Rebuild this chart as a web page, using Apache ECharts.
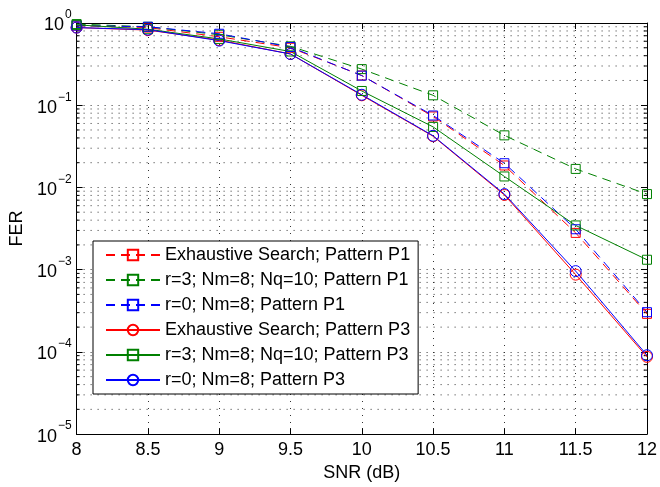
<!DOCTYPE html>
<html>
<head>
<meta charset="utf-8">
<script src="https://cdn.jsdelivr.net/npm/echarts@6/dist/echarts.min.js"></script>
<style>
  html, body { margin: 0; padding: 0; background: #fff; }
  #chart { width: 660px; height: 487px; }
</style>
</head>
<body>
<div id="chart"></div>
<script>
// SNR points (dB)
const snr = [8, 8.5, 9, 9.5, 10, 10.5, 11, 11.5, 12];

// Frame error rates, pattern P1
const exhaustiveP1 = [0.93, 0.88, 0.68, 0.50, 0.23, 0.073, 0.0185, 0.0028, 0.00029];
const r3P1 = [0.97, 0.90, 0.72, 0.52, 0.275, 0.132, 0.043, 0.0168, 0.0083];
const r0P1 = [0.93, 0.90, 0.74, 0.51, 0.229, 0.075, 0.0197, 0.0031, 0.000304];

// Frame error rates, pattern P3
const exhaustiveP3 = [0.88, 0.82, 0.62, 0.42, 0.132, 0.042, 0.0081, 0.00087, 0.000087];
const r3P3 = [0.95, 0.84, 0.64, 0.45, 0.149, 0.0545, 0.0136, 0.00345, 0.00132];
const r0P3 = [0.88, 0.83, 0.61, 0.42, 0.134, 0.0425, 0.0083, 0.00096, 0.000091];

const seriesNames = [
  'Exhaustive Search; Pattern P1',
  'r=3; Nm=8; Nq=10; Pattern P1',
  'r=0; Nm=8; Pattern P1',
  'Exhaustive Search; Pattern P3',
  'r=3; Nm=8; Nq=10; Pattern P3',
  'r=0; Nm=8; Pattern P3'
];

// Axis ranges
const xMin = 8, xMax = 12, xStep = 0.5;
const yMin = 1e-5, yMax = 1;

// Minor log positions (2..9 within each decade)
const minorLevels = [];
for (let d = -5; d < 0; d++) {
  for (let m = 2; m <= 9; m++) minorLevels.push(m * Math.pow(10, d));
}

const RED = '#ff0000', GREEN = '#008000', BLUE = '#0000ff';
const DASH = [9, 6];
const DOT = [1, 6];
const FONT = 'Liberation Sans, Arial, sans-serif';
const FS = 18;

function makeSeries(name, values, color, dashed, symbol) {
  return {
    name: name,
    type: 'line',
    xAxisIndex: 0,
    yAxisIndex: 0,
    data: snr.map((x, i) => [x, values[i]]),
    symbol: symbol,
    symbolSize: symbol === 'circle' ? 11 : 9,
    showAllSymbol: true,
    itemStyle: { color: 'transparent', borderColor: color, borderWidth: 1 },
    lineStyle: { color: color, width: 1, type: dashed ? DASH : 'solid' },
    emphasis: { disabled: true },
    z: 3
  };
}

const chart = echarts.init(document.getElementById('chart'), null, { renderer: 'canvas' });

const axisLineStyle = { lineStyle: { color: '#000', width: 1 } };

const option = {
  backgroundColor: '#fff',
  animation: false,
  textStyle: { fontFamily: FONT },
  grid: { left: 76, right: 12, top: 23, bottom: 45, containLabel: false },
  legend: {
    data: seriesNames,
    orient: 'vertical',
    left: 93,
    top: 241,
    itemWidth: 54,
    itemHeight: 13,
    itemGap: 5,
    padding: [4, 8, 4, 12],
    backgroundColor: '#fff',
    borderColor: '#000',
    borderWidth: 1,
    borderRadius: 0,
    selectedMode: false,
    textStyle: { fontSize: FS, lineHeight: 20, color: '#000', fontFamily: FONT }
  },
  xAxis: [
    {
      type: 'value', min: xMin, max: xMax, interval: xStep, position: 'bottom',
      name: 'SNR (dB)', nameLocation: 'middle', nameGap: 27,
      nameTextStyle: { fontSize: FS, color: '#000' },
      axisLine: axisLineStyle,
      axisTick: { inside: true, length: 6, lineStyle: { color: '#000' } },
      axisLabel: { fontSize: FS, color: '#000', margin: 7, formatter: v => String(v) },
      splitLine: { show: true, lineStyle: { color: '#333', type: DOT, width: 1 } }
    },
    {
      type: 'value', min: xMin, max: xMax, interval: xStep, position: 'top',
      axisLine: axisLineStyle,
      axisTick: { inside: true, length: 6, lineStyle: { color: '#000' } },
      axisLabel: { show: false },
      splitLine: { show: false }
    }
  ],
  yAxis: [
    {
      type: 'log', logBase: 10, min: yMin, max: yMax, position: 'left',
      name: 'FER', nameLocation: 'middle', nameGap: 46,
      nameTextStyle: { fontSize: FS, color: '#000' },
      axisLine: axisLineStyle,
      axisTick: { inside: true, length: 6, lineStyle: { color: '#000' } },
      axisLabel: {
        margin: 5,
        formatter: function (v) {
          const e = Math.round(Math.log10(v));
          return '{b|10}{e|' + (e < 0 ? '\u2212' + (-e) : String(e)) + '}';
        },
        rich: {
          b: { fontSize: FS, color: '#000', lineHeight: 28, padding: [5, 0, 0, 0] },
          e: { fontSize: 12, color: '#000', lineHeight: 13, verticalAlign: 'top', padding: [0, 0, 0, 1] }
        }
      },
      splitLine: { show: true, lineStyle: { color: '#333', type: DOT, width: 1 } }
    },
    {
      type: 'log', logBase: 10, min: yMin, max: yMax, position: 'right',
      axisLine: axisLineStyle,
      axisTick: { inside: true, length: 6, lineStyle: { color: '#000' } },
      axisLabel: { show: false },
      splitLine: { show: false }
    }
  ],
  series: [
    {
      // minor grid lines and minor ticks of the log axis
      name: 'minor', type: 'custom', xAxisIndex: 0, yAxisIndex: 0,
      data: minorLevels.map(v => [v]),
      silent: true, z: 1,
      renderItem: function (params, api) {
        const v = api.value(0);
        const p0 = api.coord([xMin, v]);
        const p1 = api.coord([xMax, v]);
        return {
          type: 'group',
          children: [
            { type: 'line', shape: { x1: p0[0], y1: p0[1], x2: p1[0], y2: p1[1] },
              style: { stroke: '#333', lineWidth: 1, lineDash: DOT } },
            { type: 'line', shape: { x1: p0[0], y1: p0[1], x2: p0[0] + 3, y2: p0[1] },
              style: { stroke: '#000', lineWidth: 1 } },
            { type: 'line', shape: { x1: p1[0] - 3, y1: p1[1], x2: p1[0], y2: p1[1] },
              style: { stroke: '#000', lineWidth: 1 } }
          ]
        };
      }
    },
    makeSeries(seriesNames[0], exhaustiveP1, RED, true, 'rect'),
    makeSeries(seriesNames[1], r3P1, GREEN, true, 'rect'),
    makeSeries(seriesNames[2], r0P1, BLUE, true, 'rect'),
    makeSeries(seriesNames[3], exhaustiveP3, RED, false, 'circle'),
    makeSeries(seriesNames[4], r3P3, GREEN, false, 'rect'),
    makeSeries(seriesNames[5], r0P3, BLUE, false, 'circle')
  ]
};

chart.setOption(option);
</script>
</body>
</html>
